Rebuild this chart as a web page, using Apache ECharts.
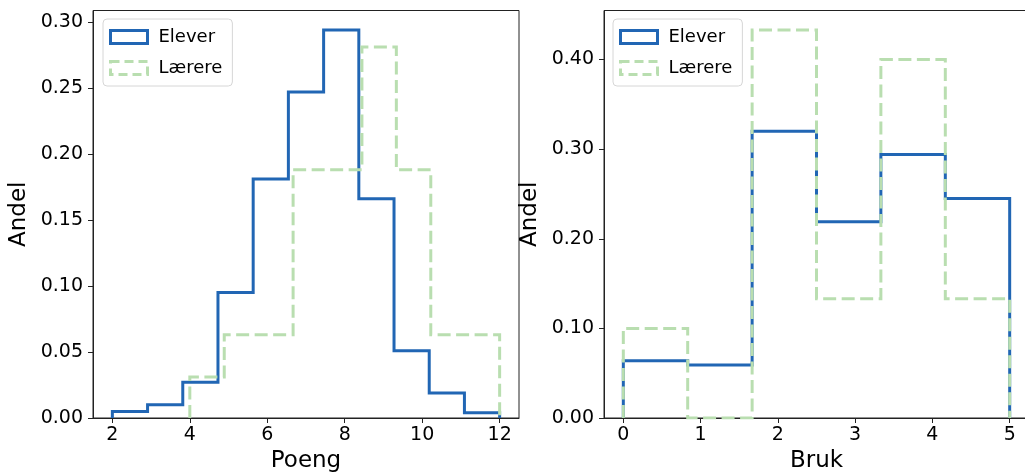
<!DOCTYPE html>
<html lang="no">
  <head>
    <meta charset="UTF-8" />
    <title>Poeng og bruk</title>
    <script src="https://cdn.jsdelivr.net/npm/echarts@6/dist/echarts.min.js"></script>
    <style>
      html, body { margin: 0; padding: 0; background: #fff; }
    </style>
  </head>
  <body>
    <div id="main" style="width: 1025px; height: 474px"></div>

    <script>
      // Poeng (venstre panel)
      var poengEleverEdges = [2, 2.909, 3.818, 4.727, 5.636, 6.545, 7.455, 8.364, 9.273, 10.182, 11.091, 12];
      var poengEleverVals = [0.005, 0.010, 0.027, 0.095, 0.181, 0.247, 0.294, 0.166, 0.051, 0.019, 0.004];
      var poengLarereEdges = [4, 4.889, 5.778, 6.667, 7.556, 8.444, 9.333, 10.222, 11.111, 12];
      var poengLarereVals = [0.031, 0.063, 0.063, 0.188, 0.188, 0.281, 0.188, 0.063, 0.063];
      var poengTicks = [2, 4, 6, 8, 10, 12];
      var poengYTicks = [0, 0.05, 0.1, 0.15, 0.2, 0.25, 0.3];

      // Bruk (høyre panel)
      var brukEdges = [0, 0.833, 1.667, 2.5, 3.333, 4.167, 5];
      var brukEleverVals = [0.064, 0.059, 0.320, 0.219, 0.294, 0.245];
      var brukLarereVals = [0.100, 0.000, 0.433, 0.133, 0.400, 0.133];
      var brukTicks = [0, 1, 2, 3, 4, 5];
      var brukYTicks = [0, 0.1, 0.2, 0.3, 0.4];

      var blue = "#2166b4";
      var green = "#b9deb0";
      var font = "DejaVu Sans";

      // trappekurve som matplotlib histtype="step"
      function stepData(edges, vals) {
        var d = [[edges[0], 0]];
        for (var i = 0; i < vals.length; i++) d.push([edges[i], vals[i]]);
        d.push([edges[edges.length - 1], vals[vals.length - 1]]);
        d.push([edges[edges.length - 1], 0]);
        return d;
      }

      function xAxis(idx, min, max, ticks, name) {
        return {
          type: "value", gridIndex: idx, min: min, max: max,
          name: name, nameLocation: "middle", nameGap: 28,
          nameTextStyle: { fontFamily: font, fontSize: 23, color: "#000" },
          axisLine: { show: true, onZero: false, lineStyle: { color: "#222", width: 1 } },
          axisTick: { show: true, length: 5, customValues: ticks, lineStyle: { color: "#222" } },
          axisLabel: {
            fontFamily: font, fontSize: 19, color: "#000", margin: 8,
            customValues: ticks,
          },
          splitLine: { show: false },
        };
      }

      function yAxis(idx, max, ticks) {
        return {
          type: "value", gridIndex: idx, min: 0, max: max,
          name: "Andel", nameLocation: "middle", nameGap: 62,
          nameTextStyle: { fontFamily: font, fontSize: 23, color: "#000" },
          axisLine: { show: true, onZero: false, lineStyle: { color: "#222", width: 1 } },
          axisTick: { show: true, length: 5, customValues: ticks, lineStyle: { color: "#222" } },
          axisLabel: {
            fontFamily: font, fontSize: 19, color: "#000", margin: 10,
            customValues: ticks,
            formatter: function (v) { return v.toFixed(2); },
          },
          splitLine: { show: false },
        };
      }

      function legend(left) {
        return {
          orient: "vertical", left: left, top: 19,
          itemWidth: 37, itemHeight: 13, itemGap: 13,
          padding: [9, 10, 9, 6],
          backgroundColor: "#fff", borderColor: "#d6d6d6", borderWidth: 1, borderRadius: 4,
          textStyle: { fontFamily: font, fontSize: 18, color: "#000", padding: [0, 0, 0, 6] },
          data: [
            { name: "Elever", icon: "rect",
              itemStyle: { color: "transparent", borderColor: blue, borderWidth: 3 } },
            { name: "Lærere", icon: "rect",
              itemStyle: { color: "transparent", borderColor: green, borderWidth: 3, borderType: [9, 5] } },
          ],
        };
      }

      function series(name, xi, data, color, dashed) {
        return {
          name: name, type: "line", xAxisIndex: xi, yAxisIndex: xi,
          step: "end", symbol: "none", animation: false, data: data,
          lineStyle: { color: color, width: 3, type: dashed ? [13, 5.5] : "solid", join: "miter", cap: "butt" },
          itemStyle: { color: color },
        };
      }

      const myEchart = echarts.init(document.getElementById("main"));
      let options = {
        animation: false,
        grid: [
          { left: 93, top: 10.5, width: 426, height: 407.5, show: true, outerBoundsMode: "none",
            containLabel: false, borderColor: "#222", borderWidth: 1, backgroundColor: "transparent" },
          { left: 604, top: 10.5, width: 425, height: 407.5, show: true, outerBoundsMode: "none",
            containLabel: false, borderColor: "#222", borderWidth: 1, backgroundColor: "transparent" },
        ],
        xAxis: [xAxis(0, 1.5, 12.5, poengTicks, "Poeng"), xAxis(1, -0.25, 5.25, brukTicks, "Bruk")],
        yAxis: [yAxis(0, 0.3087, poengYTicks), yAxis(1, 0.4547, brukYTicks)],
        legend: [legend(103), legend(613)],
        series: [
          series("Elever", 0, stepData(poengEleverEdges, poengEleverVals), blue, false),
          series("Lærere", 0, stepData(poengLarereEdges, poengLarereVals), green, true),
          series("Elever", 1, stepData(brukEdges, brukEleverVals), blue, false),
          series("Lærere", 1, stepData(brukEdges, brukLarereVals), green, true),
        ],
      };
      myEchart.setOption(options);
    </script>
  </body>
</html>
